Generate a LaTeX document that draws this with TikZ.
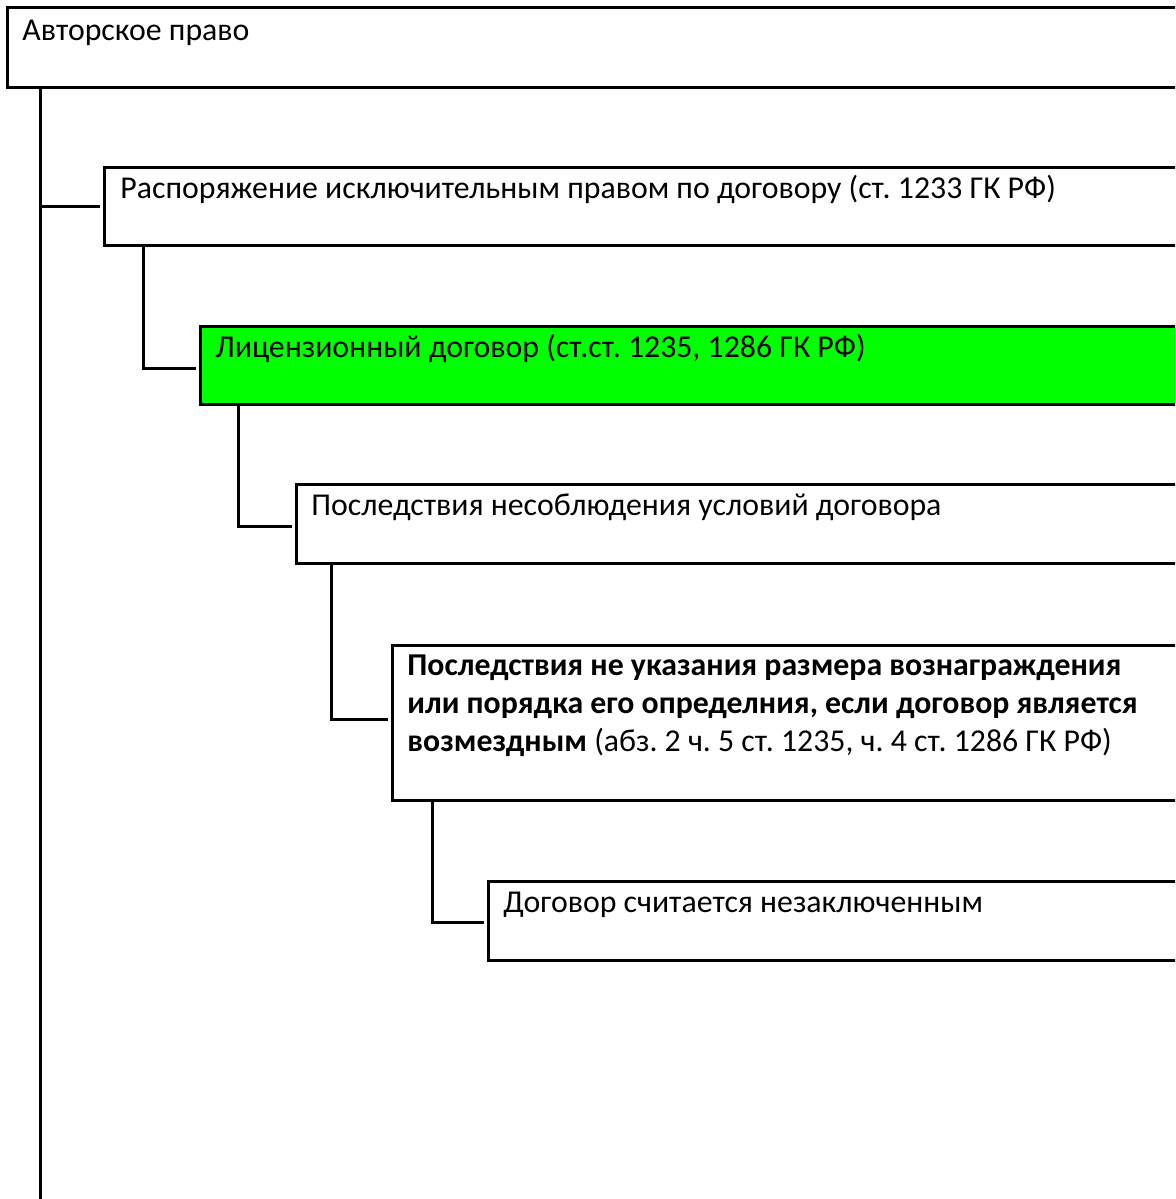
\documentclass[tikz,border=0pt]{standalone}
\usepackage{fontspec}
\setmainfont{Carlito}
\usetikzlibrary{positioning}
\usetikzlibrary{calc}
\definecolor{licgreen}{RGB}{0,255,0}
\frenchspacing

\begin{document}
\begin{tikzpicture}[
    x=0.5pt, y=-0.5pt,
    box/.style={draw, line width=1.5pt, anchor=north west, inner sep=0pt, outer sep=0pt,
        minimum width=600pt, minimum height=#1},
    box/.default=39pt,
    txt/.style={anchor=base west, inner sep=0pt, align=left,
        font=\fontsize{15.9}{18.8}\selectfont},
    link/.style={line width=1.5pt}
]
    \useasboundingbox (0,0) rectangle (1175,1199);
    \clip (0,0) rectangle (1175,1199);

    \node[box=40pt] (b1) at (7,7) {};
    \node[box] (b2) at (104,167) {};
    \node[box, fill=licgreen] (b3) at (200,326) {};
    \node[box=39.5pt] (b4) at (296,484) {};
    \node[box=77.5pt] (b5) at (392,645) {};
    \node[box=39.5pt] (b6) at (488,881) {};

    \node[txt] (t1) at ([shift={(15,33)}]b1.north west) {Авторское право};
    \node[txt] (t2) at ([shift={(16,31)}]b2.north west) {Распоряжение исключительным правом по договору (ст. 1233 ГК РФ)};
    \node[txt] (t3) at ([shift={(15,31)}]b3.north west) {Лицензионный договор (ст.ст. 1235, 1286 ГК РФ)};
    \node[txt] (t4) at ([shift={(15,31)}]b4.north west) {Последствия несоблюдения условий договора};
    % base of a multi-line node sits on its last line
    \node[txt] (t5) at ([shift={(15,106)}]b5.north west) {\textbf{Последствия не указания размера вознаграждения}\\
        \textbf{или порядка его определния, если договор является}\\
        \textbf{возмездным} (абз. 2 ч. 5 ст. 1235, ч. 4 ст. 1286 ГК РФ)};
    \node[txt] (t6) at ([shift={(15,31)}]b6.north west) {Договор считается незаключенным};

    \coordinate (r1) at ([xshift=16.5pt]b1.south west);
    \coordinate (r2) at ([xshift=19.5pt]b2.south west);
    \coordinate (r3) at ([xshift=19pt]b3.south west);
    \coordinate (r4) at ([xshift=17.5pt]b4.south west);
    \coordinate (r5) at ([xshift=20pt]b5.south west);
    \coordinate (end) at (40,1210);

    \draw[link] (r1) -- (end);
    \draw[link] (r1 |- b2.west) -- ([xshift=-2pt]b2.west);
    \draw[link] (r2) |- ([shift={(-2pt,-1.5pt)}]b3.west);
    \draw[link] (r3) |- ([shift={(-2pt,-1.5pt)}]b4.west);
    \draw[link] (r4) |- ([shift={(-2pt,1.5pt)}]b5.west);
    \draw[link] (r5) |- ([shift={(-2pt,-1pt)}]b6.west);
\end{tikzpicture}
\end{document}
